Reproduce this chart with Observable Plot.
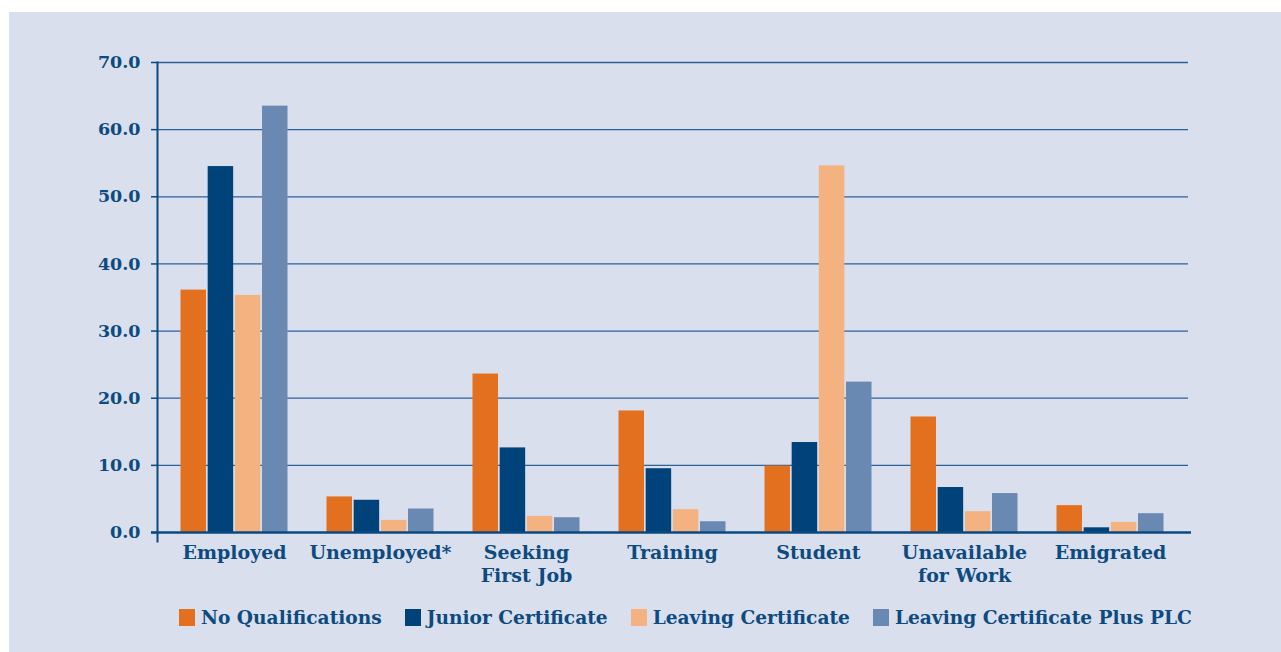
<!DOCTYPE html>
<html>
<head>
<meta charset="utf-8">
<script src="https://cdn.jsdelivr.net/npm/d3@7"></script>
<script src="https://cdn.jsdelivr.net/npm/@observablehq/plot@0.6"></script>
<style>
  html, body { margin: 0; padding: 0; background: #ffffff; }
  #panel { position: absolute; left: 9px; top: 12px; width: 1272px; height: 640px; background: #d9dfed; }
  #legend { display: flex; align-items: center; margin-left: 170px; margin-top: 17px; height: 17px;
            font-family: "DejaVu Serif", serif; font-weight: bold; font-size: 18.6px; color: #0d4a80; white-space: nowrap; }
  .item { display: flex; align-items: center; margin-right: 23px; }
  .sw { width: 16px; height: 17px; margin-right: 6px; }
</style>
</head>
<body>
<div id="panel"></div>
<script>
const categories = ["Employed", "Unemployed*", "Seeking First Job", "Training", "Student", "Unavailable for Work", "Emigrated"];
const categoryLabels = ["Employed", "Unemployed*", "Seeking\nFirst Job", "Training", "Student", "Unavailable\nfor Work", "Emigrated"];
const seriesNames = ["No Qualifications", "Junior Certificate", "Leaving Certificate", "Leaving Certificate Plus PLC"];
const noQualifications = [36.1, 5.3, 23.6, 18.1, 9.9, 17.2, 4.0];
const juniorCertificate = [54.5, 4.8, 12.6, 9.5, 13.4, 6.7, 0.7];
const leavingCertificate = [35.3, 1.8, 2.4, 3.4, 54.6, 3.1, 1.5];
const leavingCertificatePlusPLC = [63.5, 3.5, 2.2, 1.6, 22.4, 5.8, 2.8];
const yTicks = [0, 10, 20, 30, 40, 50, 60, 70];
const colors = ["#e3701e", "#00437a", "#f3b27f", "#6a89b2"];

const seriesValues = [noQualifications, juniorCertificate, leavingCertificate, leavingCertificatePlusPLC];
const data = [];
seriesNames.forEach((s, si) => categories.forEach((c, ci) => data.push({category: c, series: s, si, value: seriesValues[si][ci]})));

const W = 1272, H = 580, ML = 148, MR = 93, MT = 50, MB = 60;
const xOpts = {type: "band", domain: categories, paddingInner: 0.26, paddingOuter: 0.14, align: 0.5};
const bw = Plot.scale({x: {...xOpts, range: [ML, W - MR]}}).bandwidth;
const barW = bw / 4;
const textColor = "#0d4a80";
const font = "DejaVu Serif";

const barMarks = seriesNames.map((s, si) => Plot.barY(data.filter(d => d.si === si), {
  x: "category", y: "value", fill: colors[si],
  insetLeft: si * barW + 0.5, insetRight: (3 - si) * barW + 0.5
}));

const labelMap = new Map(categories.map((c, i) => [c, categoryLabels[i]]));

const chart = Plot.plot({
  width: W, height: H,
  marginLeft: ML, marginRight: MR, marginTop: MT, marginBottom: MB,
  style: {background: "transparent", fontFamily: font, overflow: "visible"},
  x: {...xOpts, axis: null, label: null},
  y: {domain: [0, 70], axis: null, label: null},
  marks: [
    Plot.ruleY(yTicks.filter(t => t > 0), {stroke: "#2f6199", strokeWidth: 1.3}),
    ...barMarks,
    Plot.ruleY([0], {stroke: "#0b4a80", strokeWidth: 2.6, insetLeft: -6, insetRight: -3}),
    Plot.frame({anchor: "left", stroke: "#0b4a80", strokeWidth: 2, insetBottom: -9}),
    Plot.axisY({ticks: yTicks, tickSize: 6, tickPadding: 11, tickFormat: d => d.toFixed(1), label: null,
      stroke: "#0b4a80", strokeWidth: 1.5, fill: textColor, fontSize: 17.5, fontWeight: "bold", fontFamily: font}),
    Plot.axisX({tickSize: 0, tickPadding: 9, tickFormat: d => labelMap.get(d), label: null,
      fill: textColor, fontSize: 19, fontWeight: "bold", fontFamily: font, lineHeight: 1.26})
  ]
});

const panel = document.getElementById("panel");
panel.appendChild(chart);

const legend = document.createElement("div");
legend.id = "legend";
seriesNames.forEach((s, i) => {
  const item = document.createElement("div");
  item.className = "item";
  const sw = document.createElement("div");
  sw.className = "sw";
  sw.style.background = colors[i];
  const label = document.createElement("span");
  label.textContent = s;
  item.appendChild(sw);
  item.appendChild(label);
  legend.appendChild(item);
});
panel.appendChild(legend);
</script>
</body>
</html>
